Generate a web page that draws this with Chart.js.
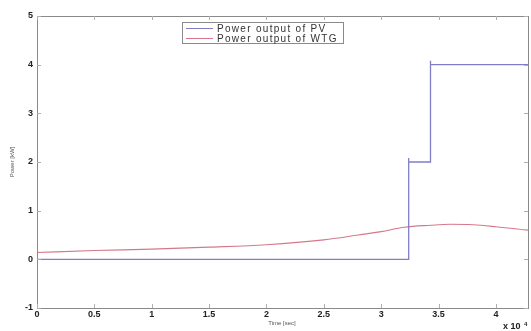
<!DOCTYPE html>
<html lang="en">
<head>
  <meta charset="UTF-8">
  <title>Power output of PV and WTG</title>
  <script src="https://cdn.jsdelivr.net/npm/chart.js"></script>
  <style>
    body { margin: 0; background: #fff; }
    #wrap { width: 531px; height: 331px; }
  </style>
</head>
<body>
  <div id="wrap"><canvas id="powerChart"></canvas></div>

  <script>
    // time axis is in units of 1e4 seconds
    const pvTime  = [0, 3.24, 3.24, 3.24, 3.43, 3.43, 3.43, 4.28];
    const pvPower = [0, 0,    2.08, 2,    2,    4.08, 4,    4];

    const wtgTime  = [0,    0.5,  1,    1.5,  2,    2.5,  2.8,  3,    3.2,  3.43, 3.6,  3.8,  4,    4.28];
    const wtgPower = [0.14, 0.18, 0.21, 0.25, 0.3,  0.4,  0.5,  0.57, 0.66, 0.7,  0.72, 0.71, 0.67, 0.6];

    const xTicks = [0, 0.5, 1, 1.5, 2, 2.5, 3, 3.5, 4];
    const yTicks = [-1, 0, 1, 2, 3, 4, 5];
    const seriesNames = ['Power output of PV', 'Power output of WTG'];

    const toPoints = (xs, ys) => xs.map((x, i) => ({ x: x, y: ys[i] }));
    const tickFont = { family: 'Liberation Sans', size: 9, weight: 'bold' };

    // MATLAB-style box, inward ticks, legend and labels
    const matlabFrame = {
      id: 'matlabFrame',
      afterDatasetsDraw(chart) {
        const ctx = chart.ctx;
        const a = chart.chartArea;
        const xs = chart.scales.x, ys = chart.scales.y;
        ctx.save();
        ctx.strokeStyle = '#8a8a8a';
        ctx.lineWidth = 1;
        ctx.strokeRect(Math.round(a.left) + 0.5, Math.round(a.top) + 0.5,
                       Math.round(a.right - a.left), Math.round(a.bottom - a.top));

        ctx.strokeStyle = '#b0b0b0';
        ctx.beginPath();
        xTicks.forEach(v => {
          const px = Math.round(xs.getPixelForValue(v)) + 0.5;
          ctx.moveTo(px, a.bottom); ctx.lineTo(px, a.bottom - 4);
          ctx.moveTo(px, a.top); ctx.lineTo(px, a.top + 4);
        });
        yTicks.forEach(v => {
          const py = Math.round(ys.getPixelForValue(v)) + 0.5;
          ctx.moveTo(a.left, py); ctx.lineTo(a.left + 4, py);
          ctx.moveTo(a.right, py); ctx.lineTo(a.right - 4, py);
        });
        ctx.stroke();

        // legend box
        const lx = 182, ly = 22, lw = 161, lh = 21;
        ctx.fillStyle = '#fff';
        ctx.fillRect(lx, ly, lw, lh);
        ctx.strokeStyle = '#8a8a8a';
        ctx.strokeRect(lx + 0.5, ly + 0.5, lw, lh);
        ctx.font = '10px "Liberation Sans"';
        ctx.letterSpacing = '1.3px';
        ctx.textBaseline = 'middle';
        chart.data.datasets.forEach((ds, i) => {
          const ry = ly + 6 + i * 10;
          ctx.strokeStyle = ds.borderColor;
          ctx.lineWidth = 1;
          ctx.beginPath();
          ctx.moveTo(186, ry + 0.5); ctx.lineTo(213, ry + 0.5);
          ctx.stroke();
          ctx.fillStyle = '#333';
          ctx.fillText(ds.label, 217, ry + 1);
        });
        ctx.letterSpacing = '0px';

        // axis labels
        ctx.fillStyle = '#555';
        ctx.font = '6px "Liberation Sans"';
        ctx.textAlign = 'center';
        ctx.fillText('Time [sec]', 282, 323);
        ctx.save();
        ctx.translate(12, 162);
        ctx.rotate(-Math.PI / 2);
        ctx.fillText('Power [kW]', 0, 0);
        ctx.restore();

        // exponent
        ctx.fillStyle = '#222';
        ctx.font = 'bold 9px "Liberation Sans"';
        ctx.textAlign = 'left';
        ctx.fillText('x 10', 503, 327);
        ctx.font = 'bold 6px "Liberation Sans"';
        ctx.fillText('4', 524, 324);
        ctx.restore();
      }
    };

    new Chart(document.getElementById('powerChart'), {
      type: 'line',
      data: {
        datasets: [
          {
            label: seriesNames[0],
            data: toPoints(pvTime, pvPower),
            borderColor: '#7f7fc6',
            borderWidth: 1.3,
            pointRadius: 0,
            tension: 0
          },
          {
            label: seriesNames[1],
            data: toPoints(wtgTime, wtgPower),
            borderColor: '#d5788a',
            borderWidth: 1.1,
            pointRadius: 0,
            tension: 0.35,
            cubicInterpolationMode: 'monotone'
          }
        ]
      },
      options: {
        responsive: true,
        maintainAspectRatio: false,
        animation: false,
        layout: { padding: { top: 16, right: 3, left: 0, bottom: 0 } },
        plugins: { legend: { display: false }, tooltip: { enabled: false } },
        scales: {
          x: {
            type: 'linear',
            min: 0,
            max: 4.28,
            afterBuildTicks: s => { s.ticks = xTicks.map(v => ({ value: v })); },
            afterFit: s => { s.height = 23; },
            grid: { display: false, drawTicks: false },
            border: { display: false },
            ticks: { font: tickFont, color: '#222', padding: 1, maxRotation: 0,
                     callback: v => String(v) }
          },
          y: {
            min: -1,
            max: 5,
            afterBuildTicks: s => { s.ticks = yTicks.map(v => ({ value: v })); },
            afterFit: s => { s.width = 37; },
            grid: { display: false, drawTicks: false },
            border: { display: false },
            ticks: { font: tickFont, color: '#222', padding: 4 }
          }
        }
      },
      plugins: [matlabFrame]
    });
  </script>
</body>
</html>
